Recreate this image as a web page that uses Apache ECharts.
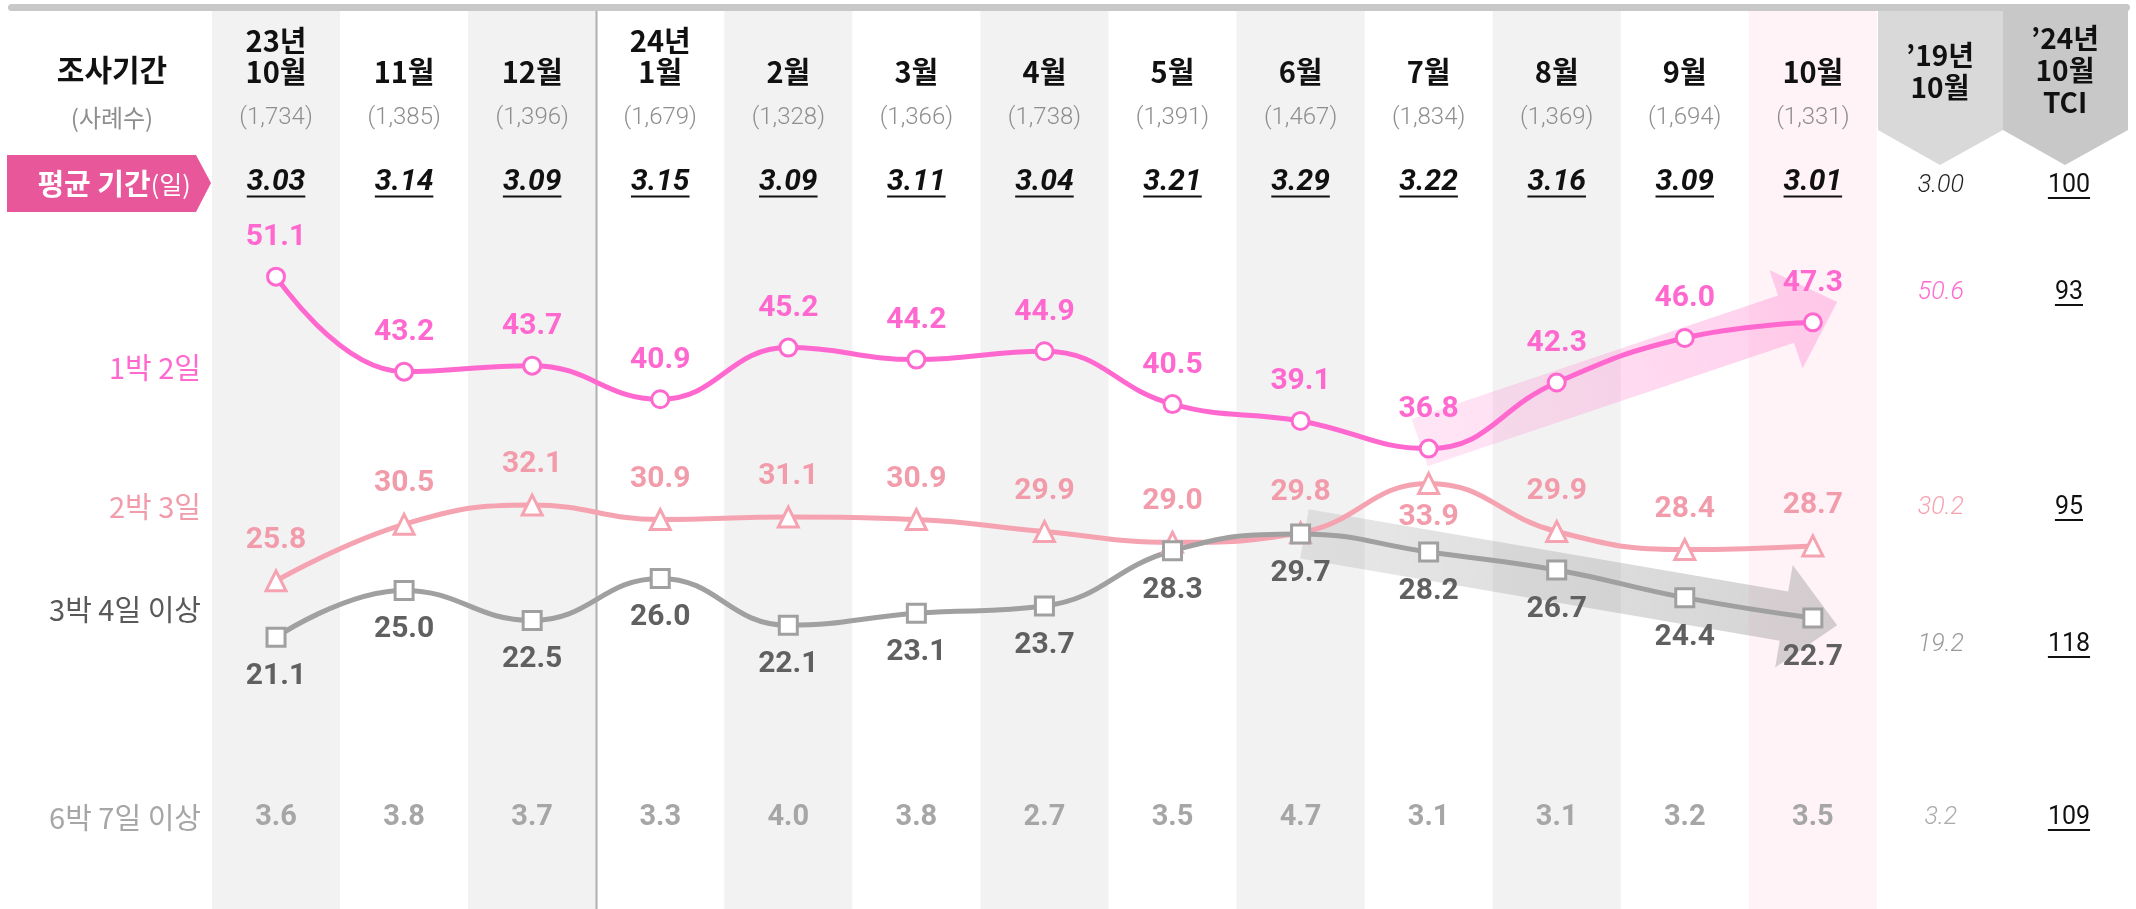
<!DOCTYPE html>
<html>
<head>
<meta charset="utf-8">
<script src="https://cdn.jsdelivr.net/npm/echarts@6/dist/echarts.min.js"></script>
<style>
  html, body { margin: 0; padding: 0; background: #fff; }
  #chart { width: 2136px; height: 909px; }
</style>
</head>
<body>
<div id="chart"></div>
<script>
// columns: 13 months + 2 comparison columns
const months = ['23년\n10월', '11월', '12월', '24년\n1월', '2월', '3월', '4월', '5월', '6월', '7월', '8월', '9월', '10월']
const cases = ['(1,734)', '(1,385)', '(1,396)', '(1,679)', '(1,328)', '(1,366)', '(1,738)', '(1,391)', '(1,467)', '(1,834)', '(1,369)', '(1,694)', '(1,331)']
const avgDays = ['3.03', '3.14', '3.09', '3.15', '3.09', '3.11', '3.04', '3.21', '3.29', '3.22', '3.16', '3.09', '3.01']

const stay1 = [51.1, 43.2, 43.7, 40.9, 45.2, 44.2, 44.9, 40.5, 39.1, 36.8, 42.3, 46.0, 47.3] // 1박 2일
const stay2 = [25.8, 30.5, 32.1, 30.9, 31.1, 30.9, 29.9, 29.0, 29.8, 33.9, 29.9, 28.4, 28.7] // 2박 3일
const stay3 = [21.1, 25.0, 22.5, 26.0, 22.1, 23.1, 23.7, 28.3, 29.7, 28.2, 26.7, 24.4, 22.7] // 3박 4일 이상
const stay6 = ['3.6', '3.8', '3.7', '3.3', '4.0', '3.8', '2.7', '3.5', '4.7', '3.1', '3.1', '3.2', '3.5'] // 6박 7일 이상

const base19 = ['3.00', '50.6', '30.2', '19.2', '3.2'] // '19년 10월
const tci = ['100', '93', '95', '118', '109'] // '24년 10월 TCI

const rowNames = ['1박 2일', '2박 3일', '3박 4일 이상', '6박 7일 이상']

// trend arrows [x from, value from, x to, value to]
const trendUp = [8.93, 37.3, 12.19, 49.0]
const trendDown = [8.03, 29.7, 12.19, 22.1]

const cats = months.concat(['’19년\n10월', '’24년\n10월\nTCI'])

const PINK = '#ff69cf'
const ROSE = '#f5a3b1'
const GREY = '#a0a0a0'
const KR = '"Noto Sans CJK KR", sans-serif'
const NUM = 'Roboto, "Noto Sans CJK KR", sans-serif'

const ctx = document.createElement('canvas').getContext('2d')
const textWidth = (text, font) => {
  ctx.font = font
  return ctx.measureText(text).width
}

// text cells laid out in table rows, columns placed by the x scale
const cellSeries = cells => ({
  type: 'custom',
  xAxisIndex: 1,
  yAxisIndex: 0,
  silent: true,
  z: 6,
  data: cells.map(c => [c.col, 0]),
  renderItem: (params, api) => {
    const c = cells[params.dataIndex]
    const x = api.coord([api.value(0), 0])[0]
    const style = {
      text: c.text,
      fill: c.color,
      fontFamily: c.family,
      fontSize: c.size,
      fontWeight: c.weight || 'normal',
      fontStyle: c.italic ? 'italic' : 'normal',
      align: 'center',
      verticalAlign: c.va || 'middle',
      lineHeight: c.lh || c.size * 1.2,
    }
    const kids = [{ type: 'text', x, y: c.y, style }]
    if (c.underline) {
      const w = textWidth(c.text, `${style.fontStyle} ${style.fontWeight} ${c.size}px ${c.family}`)
      const uy = c.y + c.size * 0.48
      kids.push({ type: 'line', shape: { x1: x - w / 2, y1: uy, x2: x + w / 2, y2: uy }, style: { stroke: c.color, lineWidth: 2 } })
    }
    return { type: 'group', children: kids }
  },
})

const cells = []
months.forEach((m, i) => {
  cells.push({ col: i, y: 87, text: m, color: '#111', family: KR, size: 29, weight: 'bold', va: 'bottom', lh: 31 })
  cells.push({ col: i, y: 118, text: cases[i], color: '#8e8e8e', family: NUM, size: 24, weight: 300 })
  cells.push({ col: i, y: 182, text: avgDays[i], color: '#111', family: NUM, size: 30, weight: 'bold', italic: true, underline: true })
  cells.push({ col: i, y: 818, text: stay6[i], color: '#a6a6a6', family: NUM, size: 29, weight: 'bold' })
})
const rightRows = [186, 293, 508, 645, 818]
const baseColors = ['#222', PINK, ROSE, '#999', '#aaa']
rightRows.forEach((y, r) => {
  cells.push({ col: 13, y, text: base19[r], color: baseColors[r], family: NUM, size: 25, weight: 300, italic: true })
  cells.push({ col: 14, y, text: tci[r], color: '#111', family: NUM, size: 25, underline: true })
})

const arrowSeries = (arrow, rgb, z) => ({
  type: 'custom',
  xAxisIndex: 1,
  yAxisIndex: 0,
  silent: true,
  z,
  data: [arrow],
  renderItem: (params, api) => {
    const s = api.coord([api.value(0), api.value(1)])
    const e = api.coord([api.value(2), api.value(3)])
    const len = Math.hypot(e[0] - s[0], e[1] - s[1])
    const d = [(e[0] - s[0]) / len, (e[1] - s[1]) / len]
    const n = [-d[1], d[0]]
    const hw = 25, hh = 52, hl = 54
    const b = [e[0] - d[0] * hl, e[1] - d[1] * hl]
    const pt = (p, k) => [p[0] + n[0] * k, p[1] + n[1] * k]
    return {
      type: 'polygon',
      shape: { points: [pt(s, hw), pt(b, hw), pt(b, hh), e, pt(b, -hh), pt(b, -hw), pt(s, -hw)] },
      style: {
        fill: new echarts.graphic.LinearGradient(s[0], s[1], e[0], e[1], [
          { offset: 0, color: `rgba(${rgb},0.22)` },
          { offset: 1, color: `rgba(${rgb},0.42)` },
        ], true),
      },
    }
  },
})

const lineSeries = (name, data, color, labelColor, symbol, size, pos) => ({
  name,
  type: 'line',
  xAxisIndex: 0,
  yAxisIndex: 0,
  data,
  smooth: 0.45,
  symbol,
  symbolSize: size,
  showAllSymbol: true,
  z: 4,
  lineStyle: { color, width: 5 },
  itemStyle: { color: '#fff', borderColor: color, borderWidth: 3 },
  label: {
    show: true,
    position: pos,
    distance: 14,
    color: labelColor,
    fontFamily: NUM,
    fontSize: 30,
    fontWeight: 'bold',
    formatter: p => Number(p.value).toFixed(1),
  },
})

const chart = echarts.init(document.getElementById('chart'))
chart.setOption({
  animation: false,
  grid: { left: 212, right: 3, top: 11, bottom: 0 },
  xAxis: [
    { type: 'category', data: cats, show: false, boundaryGap: true },
    { type: 'value', min: -0.5, max: 14.5, show: false },
  ],
  yAxis: [
    { type: 'value', min: -1.5, max: 73.2, show: false },
    { type: 'value', min: 0, max: 1, show: false },
  ],
  graphic: [
    { type: 'rect', shape: { x: 8, y: 4, width: 2122, height: 7, r: 3.5 }, style: { fill: '#c8c8c8' }, z: 10 },
    { type: 'polygon', shape: { points: [[1878, 11], [2003, 11], [2003, 130], [1940, 165], [1878, 130]] }, style: { fill: '#d9d9d9' } },
    { type: 'polygon', shape: { points: [[2003, 11], [2128, 11], [2128, 130], [2065, 165], [2003, 130]] }, style: { fill: '#c8c8c8' } },
    { type: 'text', x: 1940, y: 103, style: { text: '’19년\n10월', fill: '#111', font: 'bold 28px "Noto Sans CJK KR"', align: 'center', verticalAlign: 'bottom', lineHeight: 32 } },
    { type: 'text', x: 2065, y: 118, style: { text: '’24년\n10월\nTCI', fill: '#111', font: 'bold 28px "Noto Sans CJK KR"', align: 'center', verticalAlign: 'bottom', lineHeight: 32 } },
    { type: 'text', x: 112, y: 70, style: { text: '조사기간', fill: '#111', font: 'bold 30px "Noto Sans CJK KR"', align: 'center', verticalAlign: 'middle' } },
    { type: 'text', x: 112, y: 118, style: { text: '(사례수)', fill: '#8e8e8e', font: '24px "Noto Sans CJK KR"', align: 'center', verticalAlign: 'middle' } },
    { type: 'polygon', shape: { points: [[7, 155], [196, 155], [211, 183], [196, 212], [7, 212]] }, style: { fill: '#e8579a' } },
    {
      type: 'text', x: 114, y: 184,
      style: {
        text: '{a|평균 기간}{b|(일)}', align: 'center', verticalAlign: 'middle',
        rich: {
          a: { fill: '#fff', fontFamily: KR, fontSize: 29, fontWeight: 'bold' },
          b: { fill: '#fff', fontFamily: KR, fontSize: 25 },
        },
      },
    },
    { type: 'text', x: 201, y: 368, style: { text: rowNames[0], fill: PINK, font: '29px "Noto Sans CJK KR"', align: 'right', verticalAlign: 'middle' } },
    { type: 'text', x: 201, y: 507, style: { text: rowNames[1], fill: '#f29cab', font: '29px "Noto Sans CJK KR"', align: 'right', verticalAlign: 'middle' } },
    { type: 'text', x: 201, y: 610, style: { text: rowNames[2], fill: '#595959', font: '29px "Noto Sans CJK KR"', align: 'right', verticalAlign: 'middle' } },
    { type: 'text', x: 201, y: 818, style: { text: rowNames[3], fill: '#a6a6a6', font: '29px "Noto Sans CJK KR"', align: 'right', verticalAlign: 'middle' } },
  ],
  series: [
    {
      // column stripes
      type: 'bar',
      xAxisIndex: 0,
      yAxisIndex: 1,
      silent: true,
      barWidth: '100%',
      barCategoryGap: '0%',
      z: 0,
      data: cats.map((c, i) => ({
        value: 1,
        itemStyle: { color: i === 12 ? '#fff3f8' : (i < 12 && i % 2 === 0 ? '#f2f2f2' : 'rgba(0,0,0,0)') },
      })),
    },
    {
      // separator between 2023 and 2024
      type: 'custom',
      xAxisIndex: 1,
      yAxisIndex: 0,
      silent: true,
      z: 1,
      data: [[2.5, 0]],
      renderItem: (params, api) => {
        const x = Math.round(api.coord([api.value(0), 0])[0]) + 0.5
        const cs = params.coordSys
        return { type: 'line', shape: { x1: x, y1: cs.y, x2: x, y2: cs.y + cs.height }, style: { stroke: '#b0b0b0', lineWidth: 2 } }
      },
    },
    arrowSeries(trendDown, '150,150,150', 2),
    arrowSeries(trendUp, '255,140,210', 2),
    lineSeries('2박 3일', stay2.map((v, i) => (i === 9 ? { value: v, label: { position: 'bottom', distance: 8 } } : v)), ROSE, '#f29cab', 'triangle', 20, 'top'),
    lineSeries('3박 4일 이상', stay3, GREY, '#606060', 'rect', 18, 'bottom'),
    lineSeries('1박 2일', stay1, PINK, PINK, 'circle', 17, 'top'),
    cellSeries(cells),
  ],
})
</script>
</body>
</html>
